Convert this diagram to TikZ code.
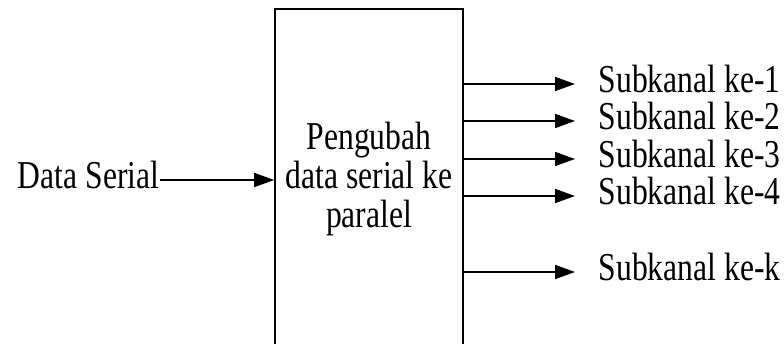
\documentclass[tikz,border=0pt]{standalone}
\usepackage{fontspec}
\setmainfont{Liberation Serif}[FakeStretch=0.8]
\usetikzlibrary{positioning,arrows.meta}

\begin{document}
\begin{tikzpicture}[x=1pt, y=-1pt, line width=1.6pt,
		txt/.style={inner sep=0pt, text height=18pt, text depth=0pt, font=\fontsize{39.5}{39}\selectfont},
		blk/.style={draw, minimum width=188pt, minimum height=340pt, align=center, font=\fontsize{39.5}{39}\selectfont},
		sig/.style={-{Triangle[length=20pt, width=14pt]}}]
		\useasboundingbox (0,0) rectangle (784,344);
		\clip (0,0) rectangle (784,344);

		\node[blk] (conv) at (369,179) {Pengubah\\data serial ke\\paralel};
		\node[txt, anchor=east] (ser) at (160,180) {Data Serial};
		\draw[sig] (ser.east) -- (conv.west |- ser.east);

		% outputs of the converter
		\foreach \n/\y in {1/84, 2/121, 3/159, 4/196, k/272} {
			\node[txt, anchor=west] (sub\n) at (598,\y) {Subkanal ke-\n};
			\draw[sig, shorten >=23pt] (conv.east |- sub\n.west) -- (sub\n.west);
		}
	\end{tikzpicture}
\end{document}
